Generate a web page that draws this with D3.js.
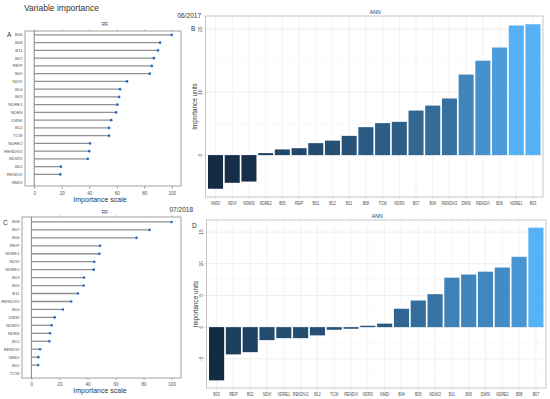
<!DOCTYPE html>
<html>
<head>
<meta charset="utf-8">
<script src="https://cdn.jsdelivr.net/npm/d3@7"></script>
<style>
  body { margin: 0; background: #fff; }
  text { font-family: "Liberation Sans", Arial, sans-serif; }
</style>
</head>
<body>
<div id="chart"></div>
<script>
// ----- dati
var rfJunVars = ["B06","B08","B11","B07","REIP","B05","NDVI","B04","B03","NDRE1","NDRS","DWSI","B12","TCW","NDRE2","RENDVI2","NDWI2","B02","RENDVI","NMDI"];
var rfJunVals = [100, 91.5, 90, 87, 85.5, 84, 67.5, 62.4, 61.7, 60.5, 59.5, 56, 54.4, 54.4, 40.6, 40, 38.9, 19.4, 19, 0];

var annJunVars = ["NMDI","NDVI","NDWI2","NDRE2","B05","REIP","B02","B12","B11","B08","TCW","NDRS","B07","B04","RENDVI2","DWSI","RENDVI","B06","NDRE1","B03"];
var annJunVals = [-5.35, -4.4, -4.2, 0.32, 0.9, 1.1, 1.9, 2.3, 3.06, 4.44, 5.08, 5.29, 7.08, 7.87, 9.0, 12.8, 15.0, 17.1, 20.6, 20.8];

var rfJulVars = ["B08","B07","B06","REIP","NDRE1","NDVI","NDRE2","B03","B05","B11","RENDVI2","B04","DWSI","NDWI2","NDRS","B12","RENDVI","NMDI","B02","TCW"];
var rfJulVals = [100, 84.3, 75, 49, 48.5, 44.8, 44.5, 37.5, 37.3, 33.2, 28.4, 22.5, 16.6, 14.4, 13.3, 12.8, 6.2, 5, 4.8, 0];

var annJulVars = ["B03","REIP","B02","NDVI","NDRE1","RENDVI2","B12","TCW","RENDVI","NDRS","NMDI","B04","B05","NDWI2","B11","B06","DWSI","NDRE2","B08","B07"];
var annJulVals = [-8.4, -4.3, -3.95, -2.05, -1.74, -1.74, -1.3, -0.42, -0.26, 0.22, 0.55, 2.9, 4.2, 5.2, 7.8, 8.3, 8.75, 9.4, 11.1, 15.7];

// ----- tick
var rfTicks = [0, 20, 40, 60, 80, 100];
var annJunMajor = [0, 10, 20];
var annJunMinor = [-5, 5, 15];
var annJulMajor = [-5, 0, 5, 10, 15];
var annJulMinor = [-7.5, -2.5, 2.5, 7.5, 12.5];

var w = 550, h = 399;

var svg = d3.select('#chart').append('svg')
    .attr('width', w).attr('height', h)
    .attr('viewBox', '0 0 ' + w + ' ' + h);

svg.append('text').attr('x', 24).attr('y', 11)
    .attr('font-size', 8.5).attr('fill', '#333').text('Variable importance');

svg.append('text').attr('x', 201).attr('y', 18).attr('text-anchor', 'end')
    .attr('font-size', 6.5).attr('fill', '#333').text('06/2017');
svg.append('text').attr('x', 193).attr('y', 212).attr('text-anchor', 'end')
    .attr('font-size', 6.5).attr('fill', '#333').text('07/2018');

// ------------ RF lollipop ------------
function rfPanel(vars, vals, box, opt) {
    var g = svg.append('g');
    var x = d3.scaleLinear().domain([-6.7, 106.7]).range([box.left, box.right]);
    var y = d3.scalePoint().domain(vars).range([box.top, box.bottom]).padding(opt.pad);

    g.append('rect')
        .attr('x', box.left).attr('y', box.top)
        .attr('width', box.right - box.left).attr('height', box.bottom - box.top)
        .attr('fill', 'none').attr('stroke', '#8a8a8a').attr('stroke-width', 0.8);

    g.append('line')
        .attr('x1', x(0)).attr('x2', x(0))
        .attr('y1', box.top).attr('y2', box.bottom)
        .attr('stroke', '#666').attr('stroke-width', 0.8);

    var rows = vars.map(function (v, i) { return { name: v, val: vals[i] }; });

    g.selectAll('line.stem').data(rows.filter(function (d) { return d.val > 0; }))
        .enter().append('line').attr('class', 'stem')
        .attr('x1', x(0)).attr('x2', function (d) { return x(d.val); })
        .attr('y1', function (d) { return y(d.name); })
        .attr('y2', function (d) { return y(d.name); })
        .attr('stroke', '#909090').attr('stroke-width', 1.3);

    g.selectAll('circle.dot').data(rows.filter(function (d) { return d.val > 0; }))
        .enter().append('circle').attr('class', 'dot')
        .attr('cx', function (d) { return x(d.val); })
        .attr('cy', function (d) { return y(d.name); })
        .attr('r', 1.3).attr('fill', '#2d68c4');

    g.selectAll('text.lab').data(rows)
        .enter().append('text').attr('class', 'lab')
        .attr('x', box.left - 2.5)
        .attr('y', function (d) { return y(d.name) + 1.5; })
        .attr('text-anchor', 'end').attr('font-size', 4.2).attr('fill', '#555')
        .text(function (d) { return d.name; });

    var ax = g.append('g').attr('transform', 'translate(0,' + box.bottom + ')')
        .call(d3.axisBottom(x).tickValues(rfTicks).tickSize(opt.tick).tickPadding(opt.tickPad));
    ax.select('.domain').remove();
    ax.selectAll('line').attr('stroke', '#777').attr('stroke-width', 0.6);
    ax.selectAll('text').attr('font-size', 4.6).attr('fill', '#555').attr('font-family', null);

    var at = g.append('g').attr('transform', 'translate(0,' + box.top + ')')
        .call(d3.axisTop(x).tickValues(rfTicks).tickSize(1.8).tickFormat(''));
    at.select('.domain').remove();
    at.selectAll('line').attr('stroke', '#999').attr('stroke-width', 0.6);

    g.append('text').attr('x', 105).attr('y', opt.rfY)
        .attr('text-anchor', 'middle').attr('font-size', 4.8).attr('fill', '#444').text('RF');
    g.append('text').attr('x', 100).attr('y', opt.titleY)
        .attr('text-anchor', 'middle').attr('font-size', 7).attr('fill', '#333').text('Importance scale');
    g.append('text').attr('x', opt.letterX).attr('y', opt.letterY)
        .attr('font-size', 6.5).attr('fill', '#333').text(opt.letter);
}

// ------------ ANN barre ------------
function annPanel(vars, vals, box, major, minor, opt) {
    var g = svg.append('g');
    var ext = d3.extent(vals);
    var pad = (ext[1] - ext[0]) * 0.05;

    var x = d3.scaleBand().domain(vars).range([box.left, box.right])
        .paddingInner(0.1).paddingOuter(0.15);
    var y = d3.scaleLinear().domain([ext[0] - pad, ext[1] + pad]).range([box.bottom, box.top]);
    var color = d3.scaleLinear().domain(ext).range(['#132B43', '#56B1F7']).interpolate(d3.interpolateLab);

    // griglia
    g.selectAll('line.minor').data(minor).enter().append('line')
        .attr('x1', box.left).attr('x2', box.right)
        .attr('y1', function (d) { return y(d); }).attr('y2', function (d) { return y(d); })
        .attr('stroke', '#f2f2f2').attr('stroke-width', 0.5);
    g.selectAll('line.major').data(major).enter().append('line')
        .attr('x1', box.left).attr('x2', box.right)
        .attr('y1', function (d) { return y(d); }).attr('y2', function (d) { return y(d); })
        .attr('stroke', '#e6e6e6').attr('stroke-width', 0.7);
    g.selectAll('line.vgrid').data(vars).enter().append('line')
        .attr('x1', function (d) { return x(d) + x.bandwidth() / 2; })
        .attr('x2', function (d) { return x(d) + x.bandwidth() / 2; })
        .attr('y1', box.top).attr('y2', box.bottom)
        .attr('stroke', '#e9e9e9').attr('stroke-width', 0.6);

    var rows = vars.map(function (v, i) { return { name: v, val: vals[i] }; });

    g.selectAll('rect.bar').data(rows).enter().append('rect')
        .attr('x', function (d) { return x(d.name); })
        .attr('width', x.bandwidth())
        .attr('y', function (d) { return y(Math.max(0, d.val)); })
        .attr('height', function (d) { return Math.abs(y(d.val) - y(0)); })
        .attr('fill', function (d) { return color(d.val); });

    g.append('rect')
        .attr('x', box.left).attr('y', box.top)
        .attr('width', box.right - box.left).attr('height', box.bottom - box.top)
        .attr('fill', 'none').attr('stroke', '#b8b8b8').attr('stroke-width', 0.8);

    // asse y, etichette ruotate
    g.selectAll('text.ytick').data(major).enter().append('text')
        .attr('transform', function (d) { return 'translate(' + (box.left - 4) + ',' + y(d) + ') rotate(-90)'; })
        .attr('text-anchor', 'middle').attr('font-size', 5).attr('fill', '#4d4d4d')
        .text(function (d) { return d; });
    g.selectAll('line.ytk').data(major).enter().append('line')
        .attr('x1', box.left - 1.8).attr('x2', box.left)
        .attr('y1', function (d) { return y(d); }).attr('y2', function (d) { return y(d); })
        .attr('stroke', '#b8b8b8').attr('stroke-width', 0.6);

    // asse x - etichette strette come nell'originale
    var ax = g.append('g').attr('transform', 'translate(0,' + box.bottom + ')')
        .call(d3.axisBottom(x).tickSize(1.8).tickPadding(2.8));
    ax.select('.domain').remove();
    ax.selectAll('line').attr('stroke', '#b8b8b8').attr('stroke-width', 0.6);
    ax.selectAll('text').attr('font-size', 5.2).attr('fill', '#4d4d4d').attr('font-family', null)
        .attr('transform', 'scale(0.7,1)');

    g.append('text')
        .attr('transform', 'translate(' + (box.left - 8.5) + ',' + ((box.top + box.bottom) / 2) + ') rotate(-90)')
        .attr('text-anchor', 'middle').attr('font-size', 6.3).attr('fill', '#333').text('Importance units');

    g.append('text').attr('x', (box.left + box.right) / 2 + 1).attr('y', box.top - 2.5)
        .attr('text-anchor', 'middle').attr('font-size', 5.2).attr('fill', '#333').text('ANN');

    g.append('text').attr('x', opt.letterX).attr('y', opt.letterY)
        .attr('font-size', 6.5).attr('fill', '#333').text(opt.letter);
}

rfPanel(rfJunVars, rfJunVals, { left: 25, right: 181, top: 31, bottom: 186 },
    { pad: 0.5, tick: 3, tickPad: 3, rfY: 26, titleY: 202, letter: 'A', letterX: 7, letterY: 37 });
rfPanel(rfJulVars, rfJulVals, { left: 22, right: 181, top: 217, bottom: 378 },
    { pad: 0.62, tick: 2, tickPad: 2.5, rfY: 214.3, titleY: 392.5, letter: 'C', letterX: 3, letterY: 225 });

annPanel(annJunVars, annJunVals, { left: 205.5, right: 543, top: 16, bottom: 197 },
    annJunMajor, annJunMinor, { letter: 'B', letterX: 191, letterY: 31 });
annPanel(annJulVars, annJulVals, { left: 206.5, right: 546, top: 220, bottom: 388 },
    annJulMajor, annJulMinor, { letter: 'D', letterX: 192, letterY: 228 });
</script>
</body>
</html>
